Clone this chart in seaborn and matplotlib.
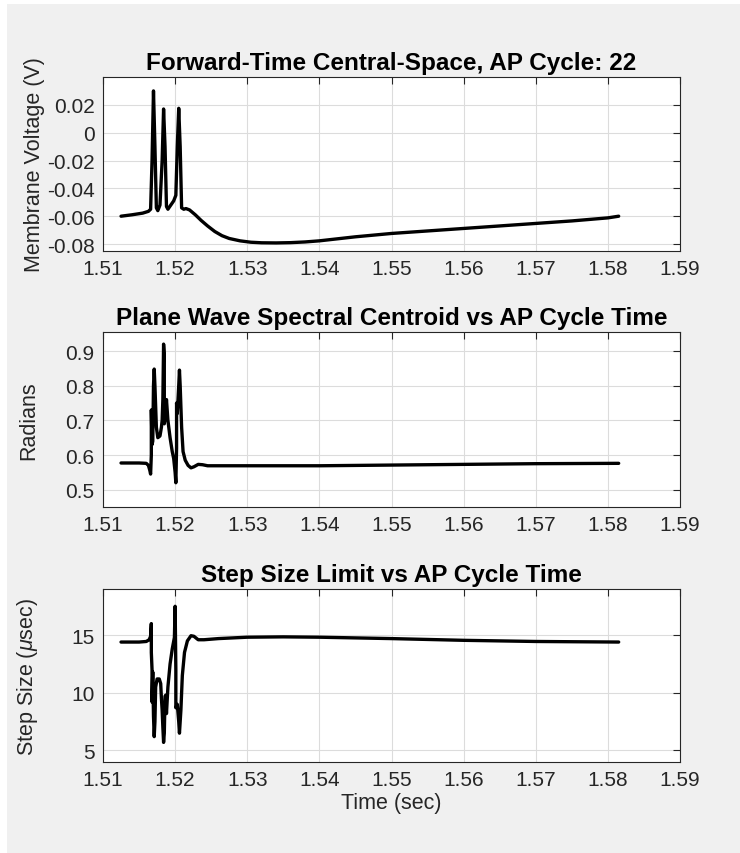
import numpy as np
import pandas as pd
import matplotlib
matplotlib.use("Agg")
import matplotlib.pyplot as plt
import seaborn as sns
from matplotlib.patches import Rectangle

# ---------------- data ----------------
t_volt = [1.5125, 1.5140, 1.5155, 1.5163, 1.5166, 1.5168, 1.5170, 1.5172, 1.5174, 1.5176,
          1.5179, 1.5182, 1.5184, 1.5186, 1.5188, 1.5190, 1.5194, 1.5198, 1.5201, 1.5203,
          1.5205, 1.5207, 1.5209, 1.5212, 1.5215, 1.5220, 1.5228, 1.5236, 1.5245, 1.5255,
          1.5265, 1.5275, 1.5290, 1.5305, 1.5320, 1.5340, 1.5360, 1.5380, 1.5400, 1.5450,
          1.5500, 1.5550, 1.5600, 1.5650, 1.5700, 1.5750, 1.5800, 1.5815]
volt = [-0.0600, -0.0590, -0.0578, -0.0565, -0.0550, -0.0200, 0.0300, -0.0100, -0.0540, -0.0560,
        -0.0520, -0.0200, 0.0170, -0.0100, -0.0530, -0.0550, -0.0520, -0.0490, -0.0450, -0.0100,
        0.0175, -0.0100, -0.0540, -0.0550, -0.0545, -0.0555, -0.0590, -0.0630, -0.0670, -0.0710,
        -0.0740, -0.0760, -0.0777, -0.0787, -0.0791, -0.0792, -0.0790, -0.0785, -0.0777, -0.0748,
        -0.0724, -0.0706, -0.0688, -0.0670, -0.0652, -0.0634, -0.0612, -0.0600]

t_cent = [1.5125, 1.5150, 1.5160, 1.5163, 1.5165, 1.5166, 1.5167, 1.5167, 1.5168, 1.5169,
          1.5170, 1.5171, 1.5172, 1.5174, 1.5176, 1.5179, 1.5181, 1.5182, 1.5183, 1.5184,
          1.5185, 1.5185, 1.5187, 1.5188, 1.5190, 1.5193, 1.5196, 1.5198, 1.5200, 1.5201,
          1.5202, 1.5202, 1.5203, 1.5205, 1.5206, 1.5207, 1.5209, 1.5211, 1.5214, 1.5218,
          1.5222, 1.5226, 1.5232, 1.5238, 1.5245, 1.5300, 1.5400, 1.5500, 1.5600, 1.5700,
          1.5815]
cent = [0.577, 0.577, 0.576, 0.570, 0.555, 0.545, 0.600, 0.730, 0.630, 0.640,
        0.800, 0.848, 0.800, 0.680, 0.650, 0.655, 0.680, 0.700, 0.760, 0.920,
        0.890, 0.690, 0.720, 0.760, 0.700, 0.650, 0.610, 0.590, 0.550, 0.520,
        0.620, 0.750, 0.720, 0.800, 0.845, 0.800, 0.680, 0.610, 0.585, 0.570,
        0.563, 0.566, 0.573, 0.572, 0.569, 0.569, 0.569, 0.571, 0.573, 0.575,
        0.576]

t_step = [1.5125, 1.5150, 1.5160, 1.5164, 1.5166, 1.5167, 1.5167, 1.5168, 1.5168, 1.5169,
          1.5170, 1.5171, 1.5172, 1.5173, 1.5175, 1.5178, 1.5180, 1.5181, 1.5182, 1.5183,
          1.5184, 1.5185, 1.5186, 1.5187, 1.5188, 1.5190, 1.5193, 1.5196, 1.5199, 1.5200,
          1.5201, 1.5201, 1.5203, 1.5205, 1.5206, 1.5208, 1.5210, 1.5213, 1.5217, 1.5222,
          1.5226, 1.5232, 1.5240, 1.5260, 1.5300, 1.5350, 1.5400, 1.5500, 1.5600, 1.5700,
          1.5815]
step = [14.40, 14.40, 14.45, 14.60, 14.90, 16.00, 13.50, 12.00, 9.20, 11.80,
        8.00, 6.20, 7.50, 10.50, 11.20, 11.20, 10.80, 9.50, 8.50, 7.00,
        5.70, 6.50, 9.70, 9.80, 8.20, 10.50, 12.50, 13.80, 14.80, 17.50,
        12.00, 8.70, 9.00, 7.50, 6.50, 8.50, 11.50, 13.50, 14.50, 14.95,
        14.90, 14.60, 14.60, 14.70, 14.82, 14.85, 14.82, 14.70, 14.55, 14.45,
        14.40]

x_ticks = [1.51, 1.52, 1.53, 1.54, 1.55, 1.56, 1.57, 1.58, 1.59]
titles = ["Forward-Time Central-Space, AP Cycle: 22",
          "Plane Wave Spectral Centroid vs AP Cycle Time",
          "Step Size Limit vs AP Cycle Time"]
ylabels = ["Membrane Voltage (V)", "Radians", r"Step Size ($\mu$sec)"]
xlabel = "Time (sec)"

# ---------------- style ----------------
sns.set_style("white")
plt.rcParams["font.family"] = ["Liberation Sans", "DejaVu Sans"]
plt.rcParams["mathtext.fontset"] = "custom"
plt.rcParams["mathtext.it"] = "Liberation Sans:italic"
plt.rcParams["mathtext.rm"] = "Liberation Sans"

W, H = 740, 854
fig = plt.figure(figsize=(W / 100, H / 100), dpi=100, facecolor="#f0f0f0")
fig.patches.append(Rectangle((0, 0), 7 / W, 1, transform=fig.transFigure,
                             facecolor="white", linewidth=0, zorder=-10))
fig.patches.append(Rectangle((0, 1 - 5 / H), 1, 5 / H, transform=fig.transFigure,
                             facecolor="white", linewidth=0, zorder=-10))

def px_axes(left, top, right, bottom):
    return fig.add_axes([left / W, 1 - bottom / H, (right - left) / W, (bottom - top) / H])

ax1 = px_axes(103, 78, 680, 252)
ax2 = px_axes(103, 333, 680, 508)
ax3 = px_axes(103, 590, 680, 763)

series = [(t_volt, volt), (t_cent, cent), (t_step, step)]
ylims = [(-0.085, 0.04), (0.45, 0.955), (4.0, 19.0)]
yticks = [[-0.08, -0.06, -0.04, -0.02, 0, 0.02],
          [0.5, 0.6, 0.7, 0.8, 0.9],
          [5, 10, 15]]
ytl = [["-0.08", "-0.06", "-0.04", "-0.02", "0", "0.02"],
       ["0.5", "0.6", "0.7", "0.8", "0.9"],
       ["5", "10", "15"]]
label_x = [-0.101, -0.110, -0.110]

tc = "#262626"
for ax, (tx, vy), yl, yt, ytlab, title, ylab, lx in zip(
        [ax1, ax2, ax3], series, ylims, yticks, ytl, titles, ylabels, label_x):
    df = pd.DataFrame({"t": tx, "v": vy})
    sns.lineplot(data=df, x="t", y="v", ax=ax, color="black", linewidth=2.4,
                 sort=False, estimator=None)
    ax.set_facecolor("white")
    ax.set_xlim(1.51, 1.59)
    ax.set_ylim(*yl)
    ax.set_xticks(x_ticks)
    ax.set_xticklabels([f"{v:.2f}" for v in x_ticks])
    ax.set_yticks(yt)
    ax.set_yticklabels(ytlab)
    ax.grid(True, color="#dcdcdc", linewidth=0.8)
    ax.set_axisbelow(True)
    for s in ax.spines.values():
        s.set_visible(True)
        s.set_color(tc)
        s.set_linewidth(0.8)
    ax.tick_params(direction="in", length=5, width=0.8, colors=tc,
                   labelsize=15, top=True, right=True, pad=6)
    ax.set_title(title, fontsize=17.5, fontweight="bold", color="black", pad=6)
    ax.set_ylabel(ylab, fontsize=15.5, color=tc)
    ax.set_xlabel("")
    ax.yaxis.set_label_coords(lx, 0.5)

ax3.set_xlabel(xlabel, fontsize=15.5, color=tc, labelpad=2)

fig.savefig("out.png", dpi=100, facecolor=fig.get_facecolor())
